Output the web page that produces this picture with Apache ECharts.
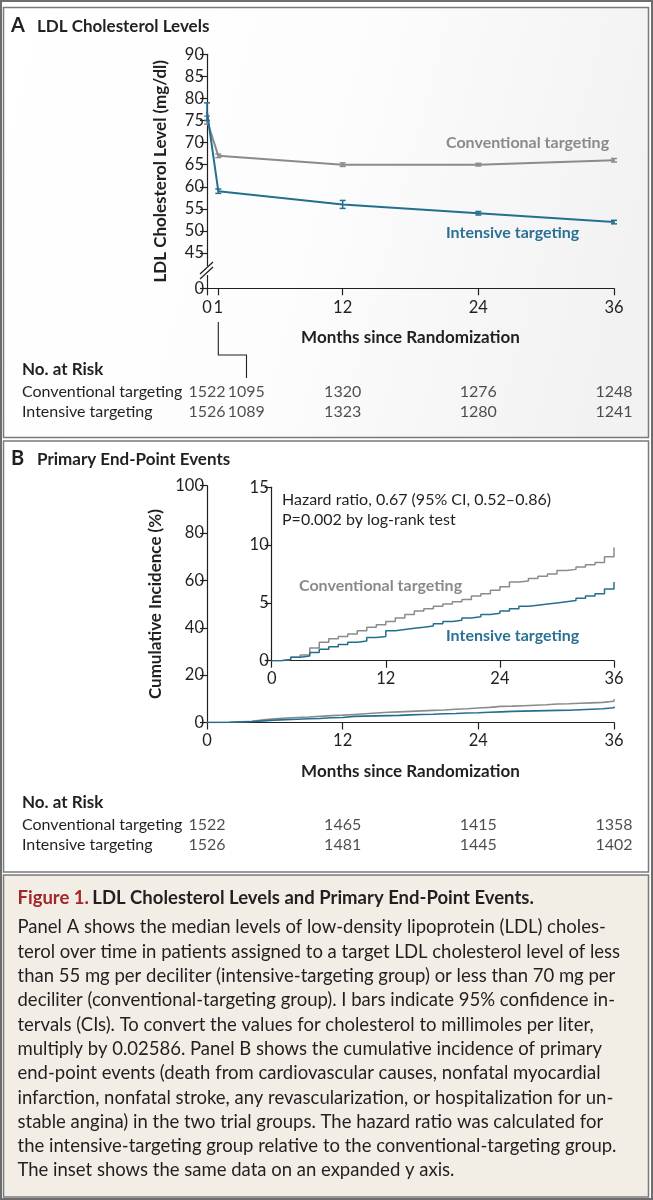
<!DOCTYPE html>
<html>
<head>
<meta charset="utf-8">
<script src="https://cdn.jsdelivr.net/npm/echarts@6.0.0/dist/echarts.min.js"></script>
<style>
  html, body { margin: 0; padding: 0; background: #fff; }
  #main { width: 653px; height: 1200px; }
</style>
</head>
<body>
<div id="main"></div>
<script>
// Panel A: median LDL with 95% CI
var ldlMonths = [0, 1, 12, 24, 36];
var ldlConventional = [75, 67, 65, 65, 66];
var ldlConventionalLow = [74.2, 66.6, 64.6, 64.7, 65.6];
var ldlConventionalHigh = [76, 67.4, 65.4, 65.3, 66.4];
var ldlIntensive = [77, 59, 56, 54, 52];
var ldlIntensiveLow = [75, 58.5, 55.1, 53.6, 51.6];
var ldlIntensiveHigh = [79, 59.5, 56.9, 54.4, 52.4];
var ldlTicks = [37, 45, 50, 55, 60, 65, 70, 75, 80, 85, 90]; // 37 = broken-axis 0

// Panel B: cumulative incidence (%)
var kmMonths = [0, 1, 2, 3, 4, 5, 6, 7, 8, 9, 10, 11, 12, 13, 14, 15, 16, 17, 18,
  19, 20, 21, 22, 23, 24, 25, 26, 27, 28, 29, 30, 31, 32, 33, 34, 35, 36];
var cumConventional = [0, 0.1, 0.3, 0.5, 1.1, 1.6, 1.9, 2.1, 2.3, 2.6, 2.9, 3.1, 3.4,
  3.7, 4.0, 4.3, 4.5, 4.7, 4.9, 5.1, 5.3, 5.6, 5.8, 6.1, 6.4, 6.8, 6.9, 7.1, 7.3,
  7.5, 7.8, 7.9, 8.1, 8.3, 8.5, 9.0, 9.8];
var cumIntensive = [0, 0.1, 0.3, 0.4, 0.7, 1.0, 1.2, 1.4, 1.6, 1.7, 2.0, 2.1, 2.6,
  2.7, 2.8, 2.9, 3.0, 3.2, 3.4, 3.5, 3.7, 3.8, 4.0, 4.1, 4.3, 4.5, 4.7, 4.8, 4.9,
  5.0, 5.1, 5.2, 5.4, 5.6, 5.8, 6.2, 6.8];

// numbers at risk
var riskRows = ['Conventional targeting', 'Intensive targeting'];
var riskMonthsA = [0, 1, 12, 24, 36];
var riskConventionalA = [1522, 1095, 1320, 1276, 1248];
var riskIntensiveA = [1526, 1089, 1323, 1280, 1241];
var riskMonthsB = [0, 12, 24, 36];
var riskConventionalB = [1522, 1465, 1415, 1358];
var riskIntensiveB = [1526, 1481, 1445, 1402];

var captionLines = [
  'Panel A shows the median levels of low-density lipoprotein (LDL) choles-',
  'terol over time in patients assigned to a target LDL cholesterol level of less',
  'than 55 mg per deciliter (intensive-targeting group) or less than 70 mg per',
  'deciliter (conventional-targeting group). I bars indicate 95% confidence in-',
  'tervals (CIs). To convert the values for cholesterol to millimoles per liter,',
  'multiply by 0.02586. Panel B shows the cumulative incidence of primary',
  'end-point events (death from cardiovascular causes, nonfatal myocardial',
  'infarction, nonfatal stroke, any revascularization, or hospitalization for un-',
  'stable angina) in the two trial groups. The hazard ratio was calculated for',
  'the intensive-targeting group relative to the conventional-targeting group.',
  'The inset shows the same data on an expanded y axis.'
];

var FONT = 'Lato, "Noto Sans", sans-serif';
var INK = '#231f20';
var GREY = '#8b8b8b';
var TEAL = '#246f8e';

function zip() {
  var args = arguments, out = [];
  for (var i = 0; i < args[0].length; i++) {
    var row = [];
    for (var j = 0; j < args.length; j++) row.push(args[j][i]);
    out.push(row);
  }
  return out;
}

function riskData(months, row, counts) {
  return months.map(function (m, i) {
    var item = { value: [m, row, counts[i]] };
    // month-1 column is printed to the right, joined by the bracket
    if (m === 1) item.label = { offset: [28, 0] };
    return item;
  });
}

function axisBase(extra) {
  var base = {
    axisLine: { show: true, lineStyle: { color: INK, width: 1.2 } },
    axisTick: { show: true, length: 7, lineStyle: { color: INK, width: 1.2 } },
    axisLabel: { color: INK, fontFamily: FONT, fontSize: 16.5 },
    splitLine: { show: false }
  };
  for (var k in extra) {
    if (base[k] && typeof extra[k] === 'object' && !Array.isArray(extra[k])) {
      for (var kk in extra[k]) base[k][kk] = extra[k][kk];
    } else base[k] = extra[k];
  }
  return base;
}

function errorBars(color) {
  return function (params, api) {
    var x = api.value(0);
    var lo = api.coord([x, api.value(1)]);
    var hi = api.coord([x, api.value(2)]);
    var style = { stroke: color, lineWidth: 1.5 };
    return {
      type: 'group',
      children: [
        { type: 'line', shape: { x1: lo[0], y1: lo[1], x2: hi[0], y2: hi[1] }, style: style },
        { type: 'line', shape: { x1: lo[0] - 3, y1: lo[1], x2: lo[0] + 3, y2: lo[1] }, style: style },
        { type: 'line', shape: { x1: hi[0] - 3, y1: hi[1], x2: hi[0] + 3, y2: hi[1] }, style: style }
      ]
    };
  };
}

var chart = echarts.init(document.getElementById('main'));

var grids = [
  { left: 207, top: 54.3, width: 407, height: 234 },     // 0 panel A
  { left: 207, top: 381.7, width: 407, height: 40 },     // 1 risk A
  { left: 207, top: 485.7, width: 407, height: 236.8 },  // 2 panel B
  { left: 271.7, top: 487.3, width: 342.3, height: 173.4 }, // 3 inset
  { left: 207, top: 815, width: 407, height: 40 }        // 4 risk B
];
grids.forEach(function (g) { g.outerBoundsMode = 'none'; g.containLabel = false; });

var riskY = function (gi) {
  return {
    gridIndex: gi, type: 'category', data: riskRows, inverse: true,
    axisLine: { show: false }, axisTick: { show: false }, splitLine: { show: false },
    axisLabel: { interval: 0, hideOverlap: false, align: 'left', margin: 185,
      color: INK, fontFamily: FONT, fontSize: 16 }
  };
};
var riskX = function (gi) {
  return { gridIndex: gi, type: 'value', min: 0, max: 36, show: false };
};

var riskLabel = {
  show: true, position: 'inside', color: INK, fontFamily: FONT, fontSize: 16,
  formatter: function (p) { return p.value[2]; }
};

var axisName = { color: INK, fontFamily: FONT, fontSize: 17, fontWeight: 'bold' };

var option = {
  animation: false,
  backgroundColor: '#ffffff',
  textStyle: { fontFamily: FONT },
  grid: grids,
  xAxis: [
    axisBase({
      gridIndex: 0, type: 'value', min: 0, max: 36,
      axisTick: { customValues: [0, 1, 12, 24, 36] },
      axisLabel: { customValues: [0, 1, 12, 24, 36], margin: 11 },
      name: 'Months since Randomization', nameLocation: 'middle', nameGap: 41,
      nameTextStyle: axisName
    }),
    riskX(1),
    axisBase({
      gridIndex: 2, type: 'value', min: 0, max: 36, interval: 12,
      axisLabel: { margin: 10 },
      name: 'Months since Randomization', nameLocation: 'middle', nameGap: 41,
      nameTextStyle: axisName
    }),
    axisBase({
      gridIndex: 3, type: 'value', min: 0, max: 36, interval: 12,
      axisLabel: { margin: 9 }
    }),
    riskX(4)
  ],
  yAxis: [
    axisBase({
      gridIndex: 0, type: 'value', min: 37, max: 90,
      axisTick: { customValues: ldlTicks },
      axisLabel: {
        customValues: ldlTicks, margin: 3,
        formatter: function (v) { return v === 37 ? '0' : String(v); }
      },
      name: 'LDL Cholesterol Level (mg/dl)', nameLocation: 'middle', nameRotate: 90,
      nameGap: 38, nameTextStyle: axisName
    }),
    riskY(1),
    axisBase({
      gridIndex: 2, type: 'value', min: 0, max: 100, interval: 20,
      axisLabel: { margin: 3 },
      name: 'Cumulative Incidence (%)', nameLocation: 'middle', nameRotate: 90,
      nameGap: 38, nameTextStyle: axisName
    }),
    axisBase({
      gridIndex: 3, type: 'value', min: 0, max: 15, interval: 5,
      axisLabel: { margin: 3 }
    }),
    riskY(4)
  ],
  series: [
    // panel A lines
    {
      type: 'line', xAxisIndex: 0, yAxisIndex: 0, data: zip(ldlMonths, ldlConventional),
      showSymbol: false, lineStyle: { color: GREY, width: 2 }, z: 2
    },
    {
      type: 'custom', xAxisIndex: 0, yAxisIndex: 0, renderItem: errorBars(GREY),
      data: zip(ldlMonths, ldlConventionalLow, ldlConventionalHigh), encode: { x: 0, y: [1, 2] }, z: 2
    },
    {
      type: 'line', xAxisIndex: 0, yAxisIndex: 0, data: zip(ldlMonths, ldlIntensive),
      showSymbol: false, lineStyle: { color: TEAL, width: 2 }, z: 3
    },
    {
      type: 'custom', xAxisIndex: 0, yAxisIndex: 0, renderItem: errorBars(TEAL),
      data: zip(ldlMonths, ldlIntensiveLow, ldlIntensiveHigh), encode: { x: 0, y: [1, 2] }, z: 3
    },
    // panel B main
    {
      type: 'line', xAxisIndex: 2, yAxisIndex: 2, data: zip(kmMonths, cumConventional),
      step: 'end', showSymbol: false, lineStyle: { color: GREY, width: 1.6 }
    },
    {
      type: 'line', xAxisIndex: 2, yAxisIndex: 2, data: zip(kmMonths, cumIntensive),
      step: 'end', showSymbol: false, lineStyle: { color: TEAL, width: 1.6 }
    },
    // inset
    {
      type: 'line', xAxisIndex: 3, yAxisIndex: 3, data: zip(kmMonths, cumConventional),
      step: 'end', showSymbol: false, lineStyle: { color: GREY, width: 1.5 }
    },
    {
      type: 'line', xAxisIndex: 3, yAxisIndex: 3, data: zip(kmMonths, cumIntensive),
      step: 'end', showSymbol: false, lineStyle: { color: TEAL, width: 1.5 }
    },
    // numbers at risk
    {
      type: 'scatter', xAxisIndex: 1, yAxisIndex: 1, symbolSize: 1,
      itemStyle: { color: 'rgba(0,0,0,0)' },
      data: riskData(riskMonthsA, riskRows[0], riskConventionalA)
        .concat(riskData(riskMonthsA, riskRows[1], riskIntensiveA)),
      label: riskLabel
    },
    {
      type: 'scatter', xAxisIndex: 4, yAxisIndex: 4, symbolSize: 1,
      itemStyle: { color: 'rgba(0,0,0,0)' },
      data: riskData(riskMonthsB, riskRows[0], riskConventionalB)
        .concat(riskData(riskMonthsB, riskRows[1], riskIntensiveB)),
      label: riskLabel
    }
  ],
  graphic: [
    // frames and backgrounds
    { type: 'rect', z: -10, shape: { x: 1, y: 1, width: 651, height: 1198 },
      style: { fill: '#ffffff', stroke: '#6d6d6d', lineWidth: 2 } },
    { type: 'rect', z: -9, shape: { x: 3.5, y: 7.5, width: 645, height: 430 },
      style: { fill: new echarts.graphic.LinearGradient(0, 0, 1, 0.4, [
        { offset: 0, color: '#ffffff' }, { offset: 0.5, color: '#fdfdfd' }, { offset: 1, color: '#f2f2f2' }]),
        stroke: '#7a7a7a', lineWidth: 1.5 } },
    { type: 'rect', z: -9, shape: { x: 3.5, y: 441, width: 645, height: 431 },
      style: { fill: '#ffffff', stroke: '#7a7a7a', lineWidth: 1.5 } },
    { type: 'rect', z: -9, shape: { x: 3.5, y: 875, width: 645, height: 322 },
      style: { fill: '#f2eee6', stroke: '#7a7a7a', lineWidth: 1.5 } },

    // panel titles
    { type: 'text', left: 11, top: 16, style: { text: 'A', font: 'bold 20px ' + FONT, fill: INK } },
    { type: 'text', left: 37, top: 18, style: { text: 'LDL Cholesterol Levels', font: 'bold 17px ' + FONT, fill: INK } },
    { type: 'text', left: 11, top: 449, style: { text: 'B', font: 'bold 20px ' + FONT, fill: INK } },
    { type: 'text', left: 37, top: 451, style: { text: 'Primary End-Point Events', font: 'bold 17px ' + FONT, fill: INK } },

    // axis break on panel A
    { type: 'rect', z: 50, shape: { x: 203, y: 266, width: 8, height: 9 }, style: { fill: '#ffffff' } },
    { type: 'line', z: 51, shape: { x1: 200, y1: 274, x2: 213, y2: 262 }, style: { stroke: INK, lineWidth: 1.2 } },
    { type: 'line', z: 51, shape: { x1: 200, y1: 279, x2: 213, y2: 267 }, style: { stroke: INK, lineWidth: 1.2 } },

    // bracket from month 1 to the shifted at-risk column
    { type: 'polyline', shape: { points: [[218.3, 322], [218.3, 355], [246.5, 355], [246.5, 378]] },
      style: { stroke: INK, lineWidth: 1.1, fill: null } },

    // curve labels
    { type: 'text', left: 446, top: 135, style: { text: 'Conventional targeting', font: 'bold 16px ' + FONT, fill: '#8a8a8a' } },
    { type: 'text', left: 446, top: 225, style: { text: 'Intensive targeting', font: 'bold 16px ' + FONT, fill: '#2b7193' } },
    { type: 'text', left: 299, top: 578, style: { text: 'Conventional targeting', font: 'bold 16px ' + FONT, fill: '#8a8a8a' } },
    { type: 'text', left: 446, top: 628, style: { text: 'Intensive targeting', font: 'bold 16px ' + FONT, fill: '#2b7193' } },
    { type: 'text', left: 282, top: 492, style: { text: 'Hazard ratio, 0.67 (95% CI, 0.52\u20130.86)', font: '16px ' + FONT, fill: INK } },
    { type: 'text', left: 282, top: 512, style: { text: 'P=0.002 by log-rank test', font: '16px ' + FONT, fill: INK } },

    // risk table headings
    { type: 'text', left: 22, top: 361, style: { text: 'No. at Risk', font: 'bold 17px ' + FONT, fill: INK } },
    { type: 'text', left: 22, top: 794, style: { text: 'No. at Risk', font: 'bold 17px ' + FONT, fill: INK } },

    // caption
    { type: 'text', left: 17.5, top: 889, style: {
      text: '{r|Figure 1.} {b|LDL Cholesterol Levels and Primary End-Point Events.}',
      rich: {
        r: { fill: '#a3262a', font: 'bold 18.5px ' + FONT },
        b: { fill: INK, font: 'bold 18.5px ' + FONT }
      }
    } }
  ].concat(captionLines.map(function (line, i) {
    return { type: 'text', left: 17.5, top: 918 + i * 24.3,
      style: { text: line, font: '18.5px ' + FONT, fill: INK } };
  }))
};

chart.setOption(option);
</script>
</body>
</html>
